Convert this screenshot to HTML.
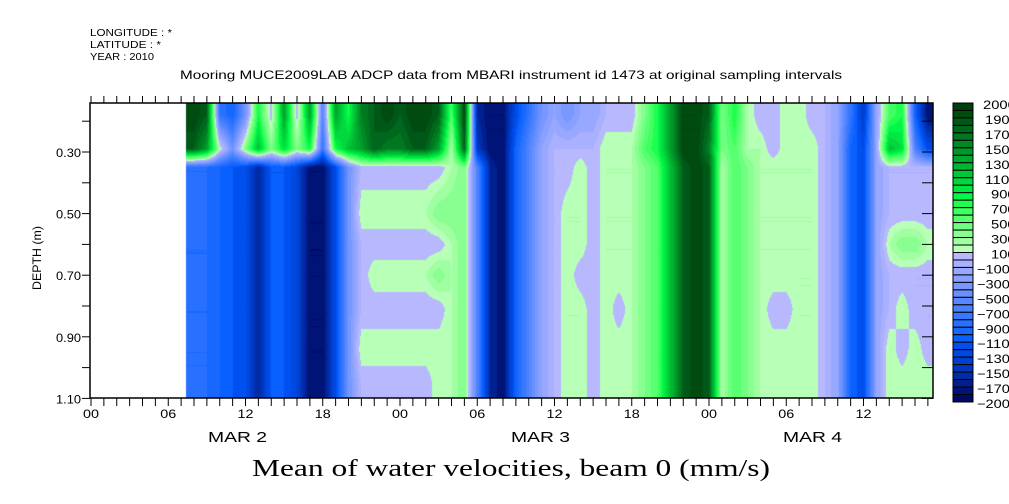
<!DOCTYPE html>
<html><head><meta charset="utf-8">
<style>
body{margin:0;background:#fff;width:1009px;height:504px;overflow:hidden;position:relative;font-family:"Liberation Sans",sans-serif;}
</style></head>
<body>
<canvas id="cv" width="1009" height="504" style="position:absolute;left:0;top:0;"></canvas>
<svg id="ax" width="1009" height="504" style="position:absolute;left:0;top:0;font-family:'Liberation Sans',sans-serif;">
<text x="90" y="36" font-size="10" textLength="82" lengthAdjust="spacingAndGlyphs">LONGITUDE : *</text>
<text x="90" y="48" font-size="10" textLength="71" lengthAdjust="spacingAndGlyphs">LATITUDE : *</text>
<text x="90" y="60" font-size="10" textLength="64" lengthAdjust="spacingAndGlyphs">YEAR : 2010</text>
<text x="180" y="79" font-size="12" textLength="662" lengthAdjust="spacingAndGlyphs">Mooring MUCE2009LAB ADCP data from MBARI instrument id 1473 at original sampling intervals</text>
<text x="252" y="476" font-size="24" font-family="Liberation Serif,serif" textLength="518" lengthAdjust="spacingAndGlyphs">Mean of water velocities, beam 0 (mm/s)</text>
<text x="0" y="0" font-size="12" textLength="64" lengthAdjust="spacingAndGlyphs" transform="translate(41,290) rotate(-90)">DEPTH (m)</text>
</svg>
<script>
const hours=[8,9,10,11,12,13,14,15,16,17,18,19,20,21,22,23,24,25,26,27,28,29,30,31,32,33,34,35,36,37,38,39,40,41,42,43,44,45,46,47,48,49,50,51,52,53,54,55,56,57,58,59,60,61,62,63,64,65];
const depths=[0.18,0.29,0.35,0.50,0.60,0.70,0.81,0.94,1.05];
const row0=[1900,1700,-900,-1100,-500,700,-100,1300,-100,1300, -700,1300,700,1500,1700,1900,1700,1900,1900,1700, 500,1900,-1700,-1900,-1900,-1300,-900,-500,-300,-500, -300,-300,-100,-100,-100,300,700,1300,1900,1900, 1700,300,700,100,-100,-100,100,100,-100,-100, -300,-900,-1500,-300,500,700,-1100,-1900];
const row1=[1700,1300,100,-500,300,1100,300,900,300,700, -900,700,1100,1300,1700,1500,1500,1700,1700,1300, 100,1700,-1500,-1900,-1900,-1100,-700,-300,-100,-100, -100,-100,100,100,100,500,700,1300,1900,1900, 1500,300,500,100,100,-100,100,100,100,-100, -300,-1100,-1300,-300,1100,900,-700,-1300];
const row2=[-1000,-1000,-1100,-1200,-1300,-1700,-1200,-1200,-1400,-1900, -1900,-1300,-500,-100,-100,-100,-100,-100,-100,-100, 100,300,-700,-1700,-1900,-1100,-700,-300,-100,-100, 100,-100,100,100,100,300,500,1100,1700,1900, 1700,100,500,300,100,100,100,100,100,-100, -300,-1100,-1300,-300,-100,-100,-100,-100];
const row3=[-1000,-1000,-1100,-1200,-1300,-1700,-1200,-1200,-1400,-1900, -1900,-1300,-500,100,100,100,100,100,100,300, 300,300,-700,-1700,-1900,-1100,-700,-300,-100,100, 100,-100,100,100,100,300,500,1100,1700,1900, 1700,100,500,300,100,100,100,100,100,-100, -300,-1100,-1300,-300,-100,-100,-100,-100];
const row4=[-1000,-1000,-1100,-1200,-1300,-1700,-1200,-1200,-1400,-1900, -1900,-1300,-500,-100,-100,-100,-100,-100,-100,-100, 100,300,-700,-1700,-1900,-1100,-700,-300,-100,100, 100,-100,100,100,100,300,500,1100,1700,1900, 1700,100,500,300,100,100,100,100,100,-100, -300,-1100,-1300,-300,100,300,300,100];
const row5=[-1000,-1000,-1100,-1200,-1300,-1700,-1200,-1200,-1400,-1900, -1900,-1300,-500,-100,100,100,100,100,100,300, 100,300,-700,-1700,-1900,-1100,-700,-300,-100,100, -100,-100,100,100,100,300,500,1100,1700,1900, 1700,100,500,300,100,100,100,100,100,-100, -300,-1100,-1300,-300,-100,-100,-100,-100];
const row6=[-1000,-1000,-1100,-1200,-1300,-1700,-1200,-1200,-1400,-1900, -1900,-1300,-500,-100,-100,-100,-100,-100,-100,-100, 100,300,-700,-1700,-1900,-1100,-700,-300,-100,100, 100,-100,100,-100,100,300,500,1100,1700,1900, 1700,100,500,300,100,-100,-100,100,100,-100, -300,-1100,-1300,-300,-100,100,-100,-100];
const row7=[-1000,-1000,-1100,-1200,-1300,-1700,-1200,-1200,-1400,-1900, -1900,-1300,-500,100,100,100,100,100,100,100, 100,300,-700,-1700,-1900,-1100,-700,-300,-100,100, 100,-100,100,100,100,300,500,1100,1700,1900, 1700,100,500,300,100,100,100,100,100,-100, -300,-1100,-1300,-300,100,-100,100,-100];
const row8=[-1000,-1000,-1100,-1200,-1300,-1700,-1200,-1200,-1400,-1900, -1900,-1300,-500,-100,-100,-100,-100,-100,-100,100, 100,300,-700,-1700,-1900,-1100,-700,-300,-100,100, 100,-100,100,100,100,300,500,1100,1700,1900, 1700,100,500,300,100,100,100,100,100,-100, -300,-1100,-1300,-300,100,100,100,100];
const grid=[row0,row1,row2,row3,row4,row5,row6,row7,row8];
const xTickLabels=["00","06","12","18","00","06","12","18","00","06","12"];
const dayLabels=["MAR  2","MAR  3","MAR  4"];
const dayLabelX=[208,511,783];
const yTickLabels=["0.30","0.50","0.70","0.90","1.10"];
const yTickVals=[0.30,0.50,0.70,0.90,1.10];
const cbLabels=["2000","1900","1700","1500","1300","1100","900","700","500","300","100","\u2212100","\u2212300","\u2212500","\u2212700","\u2212900","\u22121100","\u22121300","\u22121500","\u22121700","\u22121900","\u22122000"];

const L=90,R=933,T=103,B=398,PXH=12.875,X0=91,DATA_START=7.4;
const xS=h=>X0+h*PXH;
const yS=d=>152+(d-0.30)*308;
const dOf=y=>0.30+(y-152)/308;
const pos=["#b8ffb8","#a0ffa0","#88ff90","#70ff80","#58ff70","#40ff60","#20ff50","#00f848","#00e840","#00d83c","#00c838","#00b830","#00a82c","#009828","#008824","#007820","#00681c","#005818","#004c10","#00400c"];
const neg=["#b8b8ff","#a8b0ff","#98a8ff","#88a0ff","#7898ff","#6890ff","#5888ff","#4880ff","#3878ff","#2870ff","#1868ff","#0860ff","#0050f0","#0048e0","#0040d0","#0036c0","#002ca8","#002090","#001478","#000a62"];
function col(v){const m=Math.max(0,Math.min(19,Math.ceil(Math.abs(v)/100)-1));return v>=0?pos[m]:neg[m];}
function hex(c){return [parseInt(c.substr(1,2),16),parseInt(c.substr(3,2),16),parseInt(c.substr(5,2),16)];}
const cv=document.getElementById('cv');const ctx=cv.getContext('2d');
const img=ctx.createImageData(R-L,B-T);
function interp(arr,v){let i=0;if(v<=arr[0])return[0,0,0];if(v>=arr[arr.length-1])return[arr.length-1,arr.length-1,0];while(arr[i+1]<v)i++;return[i,i+1,(v-arr[i])/(arr[i+1]-arr[i])];}
for(let py=0;py<B-T;py++){const d=dOf(T+py+0.5);const [r0,r1,fy]=interp(depths,d);
for(let px=0;px<R-L;px++){const h=(L+px+0.5-X0)/PXH;const k=(py*(R-L)+px)*4;
if(h<DATA_START){img.data[k]=255;img.data[k+1]=255;img.data[k+2]=255;img.data[k+3]=255;continue;}
const [c0,c1,fx]=interp(hours,h);
const v=(grid[r0][c0]*(1-fx)+grid[r0][c1]*fx)*(1-fy)+(grid[r1][c0]*(1-fx)+grid[r1][c1]*fx)*fy;
const c=hex(col(v));img.data[k]=c[0];img.data[k+1]=c[1];img.data[k+2]=c[2];img.data[k+3]=255;}}
ctx.putImageData(img,L,T);

const NS='http://www.w3.org/2000/svg';const svg=document.getElementById('ax');
function el(t,a){const e=document.createElementNS(NS,t);for(const k in a)e.setAttribute(k,a[k]);svg.appendChild(e);return e;}
let f=el('rect',{x:L,y:T,width:R-L,height:B-T,fill:'none',stroke:'#000','stroke-width':1.5});


for(let h=0;h<=65;h++){const x=xS(h);
el('line',{x1:x,y1:T-7,x2:x,y2:T,stroke:'#000'});
el('line',{x1:x,y1:B,x2:x,y2:B+8,stroke:'#000'});}
xTickLabels.forEach((s,i)=>{const t=el('text',{x:xS(i*6)-8,y:418,'font-size':12,textLength:16,lengthAdjust:'spacingAndGlyphs'});t.textContent=s;

});
dayLabels.forEach((s,i)=>{const t=el('text',{x:dayLabelX[i],y:442,'font-size':15,textLength:59,lengthAdjust:'spacingAndGlyphs','xml:space':'preserve'});t.textContent=s;

});
for(let d=0.2;d<1.15;d+=0.1){const y=yS(d);el('line',{x1:L-8,y1:y,x2:L,y2:y,stroke:'#000'});el('line',{x1:R-11,y1:y,x2:R,y2:y,stroke:'#000'});}
yTickVals.forEach((d,i)=>{const t=el('text',{x:56,y:yS(d)+5,'font-size':12,textLength:25,lengthAdjust:'spacingAndGlyphs'});t.textContent=yTickLabels[i];

});
const cbT=103,cbB=402,cbH=(cbB-cbT)/40;
for(let i=0;i<40;i++){const v=1950-i*100;const r=el('rect',{x:953,y:cbT+i*cbH,width:20,height:cbH,fill:col(v>0?v+50:v-50),stroke:'#000','stroke-width':1});

}
cbLabels.forEach((s,i)=>{if(i>20)return;const txt=i===20?"\u22122000":s;const n=txt.length;const x0=i===0?983:(txt.startsWith("\u2212")?977:(n>=4?985:991));
const t=el('text',{x:x0,y:cbT+i*2*cbH+6,'font-size':12,textLength:n*8.2,lengthAdjust:'spacingAndGlyphs'});t.textContent=txt;

});
</script>
</body></html>
